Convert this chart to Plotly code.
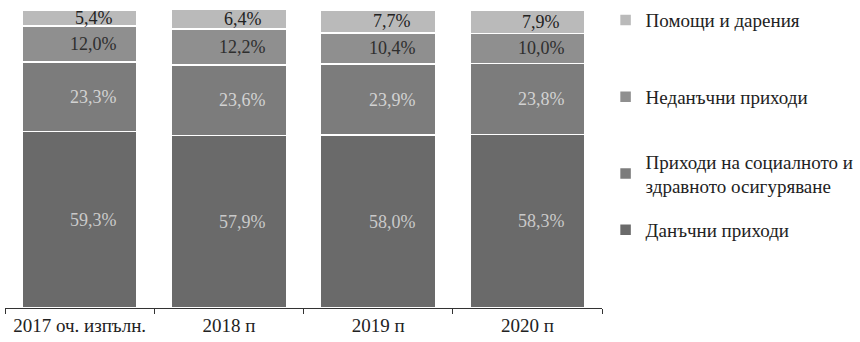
import plotly.graph_objects as go

# Revenue structure by year (% of total)
years = ["2017 оч. изпълн.", "2018 п", "2019 п", "2020 п"]
tax_revenue = [59.3, 57.9, 58.0, 58.3]
social_health = [23.3, 23.6, 23.9, 23.8]
non_tax = [12.0, 12.2, 10.4, 10.0]
grants = [5.4, 6.4, 7.7, 7.9]

series = [
    ("Данъчни приходи", tax_revenue, "#6a6a6a", "#c9c9c9"),
    ("Приходи на социалното и<br>здравното осигуряване", social_health, "#7c7c7c", "#d2d2d2"),
    ("Неданъчни приходи", non_tax, "#8f8f8f", "#2e2e2e"),
    ("Помощи и дарения", grants, "#bababa", "#222222"),
]

FONT = "Liberation Serif"
legend_names = ["legend", "legend2", "legend3", "legend4"]
legend_y = [0.262, 0.450, 0.708, 0.966]

fig = go.Figure()
annotations = []
base = [0.0] * len(years)
for i, (name, vals, color, txtcolor) in enumerate(series):
    fig.add_trace(go.Bar(
        x=years, y=vals, name=name,
        marker=dict(color=color, line=dict(color="white", width=1.5)),
        legend=legend_names[i],
        hoverinfo="skip",
    ))
    for j, v in enumerate(vals):
        annotations.append(dict(
            x=years[j], y=base[j] + v / 2, xref="x", yref="y",
            text=f"{v:.1f}%".replace(".", ","), showarrow=False,
            xshift=14, font=dict(family=FONT, size=18, color=txtcolor),
        ))
        base[j] += v

layout_legends = {}
for i, ln in enumerate(legend_names):
    layout_legends[ln] = dict(
        x=1.006, y=legend_y[i], xanchor="left", yanchor="middle",
        bgcolor="rgba(0,0,0,0)", borderwidth=0,
        font=dict(family=FONT, size=19, color="#222"),
        itemwidth=30,
    )

fig.update_layout(
    width=860, height=342,
    margin=dict(l=5, r=258, t=10, b=34, autoexpand=False),
    barmode="stack", bargap=0.23,
    plot_bgcolor="white", paper_bgcolor="white",
    showlegend=True,
    annotations=annotations,
    font=dict(family=FONT, size=19, color="#222"),
    xaxis=dict(
        showline=True, linecolor="#333", linewidth=1,
        ticks="outside", ticklen=5, tickcolor="#333", tickson="boundaries",
        tickfont=dict(family=FONT, size=19, color="#222"),
        showgrid=False, fixedrange=True,
    ),
    yaxis=dict(range=[0, 100], visible=False, showgrid=False, fixedrange=True),
    **layout_legends,
)

fig.write_html("out.html")
